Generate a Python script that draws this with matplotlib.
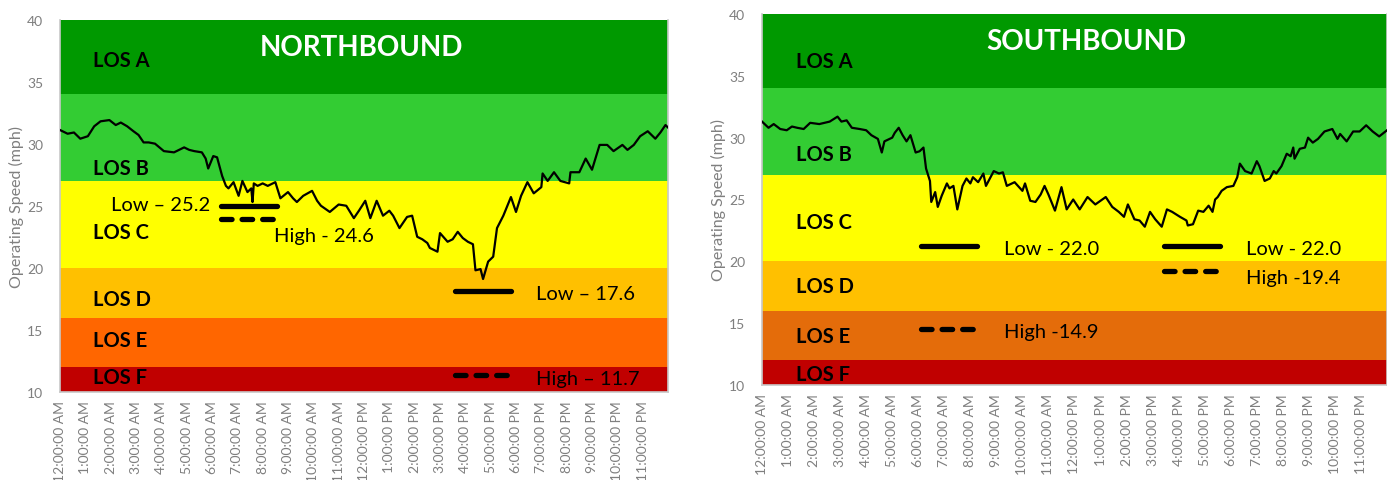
import matplotlib.pyplot as plt

# hour labels shared by both panels
hour_labels = ['12:00:00 AM'] + [f'{h}:00:00 AM' for h in range(1, 12)] + \
              ['12:00:00 PM'] + [f'{h}:00:00 PM' for h in range(1, 12)]

# level of service bands (mph)
los_names = ['LOS F', 'LOS E', 'LOS D', 'LOS C', 'LOS B', 'LOS A']
los_edges = [10, 12, 16, 20, 27, 34, 40]
nb_colors = ['#C00000', '#FF6600', '#FFC000', '#FFFF00', '#33CC33', '#009900']
sb_colors = ['#C00000', '#E46C0A', '#FFC000', '#FFFF00', '#33CC33', '#009900']

# northbound speed profile (hour of day, mph)
nb_hours = [0.0, 0.3, 0.55, 0.8, 1.1, 1.35, 1.6, 1.95, 2.2, 2.4, 2.65, 2.9, 3.1, 3.3,
            3.5, 3.75, 4.1, 4.5, 4.7, 4.9, 5.1, 5.3, 5.6, 5.75, 5.85, 6.05, 6.2, 6.4,
            6.55, 6.65, 6.85, 7.05, 7.2, 7.4, 7.55, 7.6, 7.65, 7.8, 8.0, 8.2, 8.5, 8.7,
            9.0, 9.2, 9.35, 9.6, 9.95, 10.15, 10.3, 10.65, 11.0, 11.3, 11.6, 11.8, 12.05,
            12.25, 12.5, 12.75, 13.0, 13.15, 13.4, 13.7, 13.9, 14.1, 14.3, 14.5, 14.6,
            14.9, 15.0, 15.3, 15.5, 15.7, 15.9, 16.1, 16.3, 16.4, 16.6, 16.7, 16.9, 17.1,
            17.25, 17.5, 17.8, 18.0, 18.2, 18.45, 18.7, 19.0, 19.05, 19.25, 19.5, 19.75,
            20.1, 20.15, 20.5, 20.75, 21.0, 21.3, 21.6, 21.85, 22.2, 22.4, 22.65, 22.9,
            23.2, 23.5, 23.7, 23.9, 24.0]
nb_speed = [31.1, 30.8, 30.9, 30.4, 30.6, 31.4, 31.8, 31.9, 31.5, 31.7, 31.4, 31.0, 30.7, 30.1,
            30.1, 30.0, 29.4, 29.3, 29.5, 29.7, 29.5, 29.4, 29.3, 28.8, 28.0, 29.0, 28.9, 27.4,
            26.6, 26.4, 26.9, 25.8, 27.0, 26.1, 26.4, 25.3, 26.8, 26.6, 26.8, 26.6, 26.9, 25.6,
            26.1, 25.6, 25.3, 25.8, 26.2, 25.4, 25.0, 24.5, 25.1, 25.0, 24.0, 24.6, 25.4,
            24.0, 25.4, 24.2, 24.6, 24.2, 23.2, 24.1, 24.2, 22.5, 22.3, 22.0, 21.6,
            21.3, 22.8, 22.1, 22.3, 22.9, 22.4, 22.1, 21.9, 19.8, 19.9, 19.1, 20.5, 20.9,
            23.2, 24.2, 25.7, 24.5, 25.8, 26.9, 26.0, 26.5, 27.6, 27.0, 27.7, 27.0,
            26.8, 27.7, 27.7, 28.8, 27.9, 29.9, 29.9, 29.4, 29.9, 29.5, 29.9, 30.6,
            31.0, 30.4, 30.9, 31.5, 31.3]

# southbound speed profile (hour of day, mph)
sb_hours = [0.0, 0.25, 0.45, 0.7, 0.95, 1.15, 1.35, 1.6, 1.85, 2.2, 2.6, 2.9, 3.05, 3.25, 3.45,
            3.75, 4.0, 4.2, 4.45, 4.6, 4.7, 5.0, 5.1, 5.25, 5.4, 5.55, 5.7, 5.9, 6.05, 6.2,
            6.3, 6.45, 6.5, 6.65, 6.75, 6.9, 7.1, 7.2, 7.35, 7.5, 7.7, 7.85, 8.0, 8.1, 8.3,
            8.5, 8.6, 8.9, 9.1, 9.25, 9.4, 9.7, 10.0, 10.1, 10.3, 10.5, 10.7, 10.85, 11.0,
            11.25, 11.5, 11.7, 11.95, 12.2, 12.5, 12.8, 13.2, 13.45, 13.7, 13.9, 14.05, 14.3,
            14.5, 14.7, 14.9, 15.1, 15.35, 15.55, 15.75, 16.05, 16.3, 16.35, 16.55, 16.75,
            16.95, 17.15, 17.3, 17.4, 17.5, 17.65, 17.85, 18.1, 18.25, 18.35, 18.55, 18.8,
            19.0, 19.1, 19.3, 19.5, 19.65, 19.75, 19.95, 20.15, 20.3, 20.4, 20.45, 20.65,
            20.85, 20.97, 21.15, 21.35, 21.6, 21.9, 22.1, 22.2, 22.45, 22.7, 22.95, 23.2,
            23.45, 23.7, 24.0]
sb_speed = [31.3, 30.8, 31.1, 30.7, 30.6, 30.9, 30.8, 30.7, 31.2, 31.1, 31.3, 31.7, 31.3, 31.4, 30.8,
            30.7, 30.6, 30.2, 29.9, 28.8, 29.7, 30.0, 30.4, 30.8, 30.2, 29.7, 30.2, 28.8, 28.9, 29.2,
            27.5, 26.5, 24.8, 25.6, 24.4, 25.3, 26.3, 25.9, 26.1, 24.2, 26.1, 26.7, 26.3, 26.8, 26.4,
            27.1, 26.1, 27.3, 27.1, 27.2, 26.1, 26.4, 25.7, 26.3, 24.9, 24.8, 25.4, 26.1, 25.4,
            24.1, 26.0, 24.2, 25.0, 24.2, 25.2, 24.6, 25.2, 24.4, 24.0, 23.6, 24.6, 23.4,
            23.3, 22.8, 24.0, 23.4, 22.8, 24.2, 24.0, 23.6, 23.3, 22.9, 23.0, 24.1,
            24.0, 24.5, 24.0, 25.0, 25.2, 25.7, 26.0, 26.1, 26.8, 27.9, 27.3, 27.1,
            28.1, 27.7, 26.5, 26.7, 27.3, 27.1, 27.7, 28.7, 28.5, 29.2, 28.3, 29.1,
            29.2, 30.0, 29.6, 29.9, 30.5, 30.7, 29.9, 30.3, 29.7, 30.5, 30.5, 31.0,
            30.5, 30.1, 30.6]

# peak-period markers: (start hour, end hour, drawn level, style, label)
nb_marks = [(6.35, 8.55, 25.0, 'solid', 'Low \u2013 25.2'),
            (6.35, 8.55, 23.9, 'dash', 'High - 24.6'),
            (15.6, 17.8, 18.1, 'solid', 'Low \u2013 17.6'),
            (15.6, 17.8, 11.4, 'dash', 'High \u2013 11.7')]
sb_marks = [(6.1, 8.25, 21.2, 'solid', 'Low - 22.0'),
            (6.1, 8.25, 14.5, 'dash', 'High -14.9'),
            (15.45, 17.6, 21.2, 'solid', 'Low - 22.0'),
            (15.45, 17.6, 19.2, 'dash', 'High -19.4')]

# label anchor points: (hour, speed, ha)
nb_text_pos = [(5.95, 25.1, 'right'), (8.45, 22.6, 'left'), (18.8, 17.9, 'left'), (18.8, 11.1, 'left')]
sb_text_pos = [(9.3, 21.0, 'left'), (9.3, 14.3, 'left'), (18.6, 21.0, 'left'), (18.6, 18.7, 'left')]
nb_los_y = [11.2, 14.15, 17.5, 22.9, 28.0, 36.7]
sb_los_y = [10.9, 14.0, 18.0, 23.2, 28.7, 36.2]

FONT = 'Lato'
GREY = '#7F7F7F'
plt.rcParams['font.family'] = [FONT, 'DejaVu Sans']

fig = plt.figure(figsize=(13.87, 4.81), dpi=100)
ax1 = fig.add_axes([60 / 1387, 88 / 481, 608 / 1387, 372.5 / 481])
ax2 = fig.add_axes([762 / 1387, 95 / 481, 625 / 1387, 371 / 481])


def draw_panel(ax, title, title_x, colors, hours, speed, marks, text_pos, los_y):
    for lo, hi, c in zip(los_edges[:-1], los_edges[1:], colors):
        ax.axhspan(lo, hi, color=c, lw=0, zorder=0)
    for name, y in zip(los_names, los_y):
        ax.text(1.3, y, name, fontsize=14.5, fontweight='bold', va='center', ha='left', color='black')
    ax.plot(hours, speed, color='black', lw=1.6, zorder=3)
    for (x0, x1, y, style, label), (tx, ty, ha) in zip(marks, text_pos):
        if style == 'solid':
            ax.plot([x0, x1], [y, y], color='black', lw=3.8, solid_capstyle='round', zorder=3)
        else:
            ax.plot([x0, x1], [y, y], color='black', lw=3.8, linestyle=(0, (2.0, 1.9)),
                    dash_capstyle='round', zorder=3)
        ax.text(tx, ty, label, fontsize=14.5, ha=ha, va='center', color='black')
    ax.text(title_x, 37.8, title, fontsize=20, fontweight='bold', color='white',
            ha='center', va='center')
    ax.set_xlim(0, 24)
    ax.set_ylim(10, 40)
    ax.set_yticks(range(10, 41, 5))
    ax.set_xticks(range(24))
    ax.set_xticklabels(hour_labels, rotation=90)
    ax.tick_params(axis='both', length=0, colors=GREY, labelsize=10)
    ax.tick_params(axis='y', pad=12)
    ax.tick_params(axis='x', pad=6)
    ax.set_ylabel('Operating Speed (mph)', color=GREY, fontsize=11.5, labelpad=2)
    for side in ['left', 'right', 'bottom']:
        ax.spines[side].set_color('#C8C8C8')
        ax.spines[side].set_linewidth(1.2)
    ax.spines['top'].set_visible(False)


draw_panel(ax1, 'NORTHBOUND', 11.9, nb_colors, nb_hours, nb_speed, nb_marks, nb_text_pos, nb_los_y)
draw_panel(ax2, 'SOUTHBOUND', 12.45, sb_colors, sb_hours, sb_speed, sb_marks, sb_text_pos, sb_los_y)

fig.savefig('out.png', dpi=100)
